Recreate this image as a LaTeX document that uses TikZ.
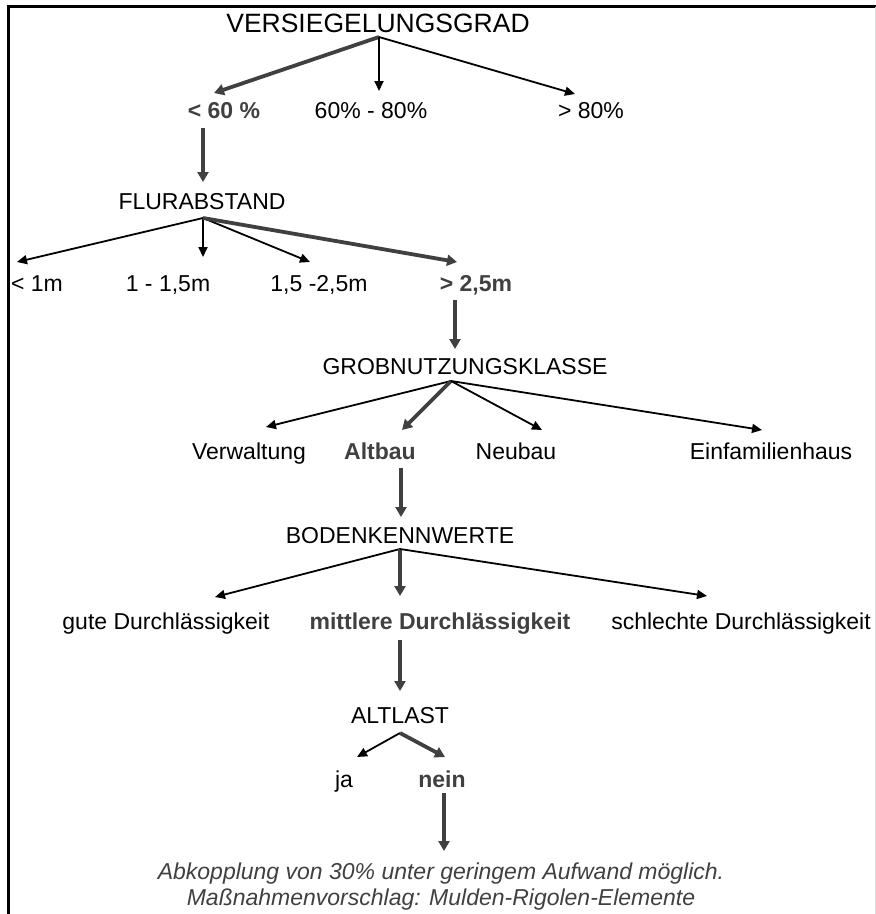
\documentclass[tikz,border=0pt]{standalone}
\usepackage{fontspec}
\setmainfont{Liberation Sans}
\usetikzlibrary{arrows.meta}
\definecolor{dk}{HTML}{404040}
\begin{document}
\begin{tikzpicture}[x=1pt,y=-1pt,
 lbl/.style={anchor=base,inner sep=0pt,font=\fontsize{23}{27}\selectfont},
 hl/.style={anchor=base,inner sep=0pt,font=\fontsize{23}{27}\selectfont\bfseries,text=dk},
 ttl/.style={anchor=base,inner sep=0pt,font=\fontsize{26.5}{30}\selectfont},
 note/.style={anchor=base,inner sep=0pt,font=\fontsize{23}{27}\selectfont\itshape,text=dk},
 thin/.style={draw=black,line width=1.8pt,-{Triangle[length=10pt,width=9pt]}},
 thk/.style={draw=dk,line width=3.8pt,-{Triangle[length=10pt,width=11pt]}},
 frame/.style={draw=black,line width=2.4pt}
]
\useasboundingbox (0,0) rectangle (876,914);
\draw[frame] (8.5,914) -- (8.5,6.5) -- (876,6.5);
\draw[draw=black!12,line width=0.8pt] (875.5,6.5) -- (875.5,914);

% level 0
\node[ttl] (vg) at (378,32) {VERSIEGELUNGSGRAD};
\node[hl] (v1) at (224,118) {< 60 \%};
\node[lbl] (v2) at (371,118) {60\% - 80\%};
\node[lbl] (v3) at (591,118) {> 80\%};
\coordinate (vgA) at (379,37);
\coordinate (v1t) at (214,93);
\coordinate (v2t) at (379,91);
\coordinate (v3t) at (575,94);
\draw[thk] (vgA) -- (v1t);
\draw[thin] (vgA) -- (v2t);
\draw[thin] (vgA) -- (v3t);

% level 1
\node[lbl] (fa) at (202,209) {FLURABSTAND};
\coordinate (v1b) at (203,128);
\coordinate (fat) at (203,182);
\draw[thk] (v1b) -- (fat);
\node[lbl] (f1) at (37,291) {< 1m};
\node[lbl] (f2) at (168,291) {1 - 1,5m};
\node[lbl] (f3) at (319,291) {1,5 -2,5m};
\node[hl] (f4) at (476,291) {> 2,5m};
\coordinate (faA) at (203,218);
\coordinate (f1t) at (17,262);
\coordinate (f2t) at (203,257);
\coordinate (f3t) at (310,262);
\coordinate (f4t) at (457,262);
\draw[thin] (faA) -- (f1t);
\draw[thin] (faA) -- (f2t);
\draw[thin] (faA) -- (f3t);
\draw[thk] (faA) -- (f4t);

% level 2
\node[lbl] (gk) at (465,374) {GROBNUTZUNGSKLASSE};
\coordinate (f4b) at (455,300);
\coordinate (gkt) at (455,349);
\draw[thk] (f4b) -- (gkt);
\node[lbl] (g1) at (249,459) {Verwaltung};
\node[hl] (g2) at (380,459) {Altbau};
\node[lbl] (g3) at (516,459) {Neubau};
\node[lbl] (g4) at (771,459) {Einfamilienhaus};
\coordinate (gkA) at (451,381);
\coordinate (g1t) at (266,427);
\coordinate (g2t) at (402,430);
\coordinate (g3t) at (542,430);
\coordinate (g4t) at (762,430);
\draw[thin] (gkA) -- (g1t);
\draw[thk] (gkA) -- (g2t);
\draw[thin] (gkA) -- (g3t);
\draw[thin] (gkA) -- (g4t);

% level 3
\node[lbl] (bk) at (400,543) {BODENKENNWERTE};
\coordinate (g2b) at (401,468);
\coordinate (bkt) at (401,517);
\draw[thk] (g2b) -- (bkt);
\node[lbl] (b1) at (166,629) {gute Durchlässigkeit};
\node[hl] (b2) at (440,629) {mittlere Durchlässigkeit};
\node[lbl] (b3) at (741,629) {schlechte Durchlässigkeit};
\coordinate (bkA) at (400,549);
\coordinate (b1t) at (215,597);
\coordinate (b2t) at (400,596);
\coordinate (b3t) at (707,596);
\draw[thin] (bkA) -- (b1t);
\draw[thk] (bkA) -- (b2t);
\draw[thin] (bkA) -- (b3t);

% level 4
\node[lbl] (al) at (400,723) {ALTLAST};
\coordinate (b2b) at (400,640);
\coordinate (alt) at (400,691);
\draw[thk] (b2b) -- (alt);
\node[lbl] (a1) at (344,787) {ja};
\node[hl] (a2) at (442,787) {nein};
\coordinate (alA) at (400,733);
\coordinate (a1t) at (357,757);
\coordinate (a2t) at (445,757);
\draw[thin] (alA) -- (a1t);
\draw[thk] (alA) -- (a2t);

% result
\node[note] (r1) at (441,879) {Abkopplung von 30\% unter geringem Aufwand möglich.};
\node[note] (r2) at (441,905) {Maßnahmenvorschlag: Mulden-Rigolen-Elemente};
\coordinate (a2b) at (444,793);
\coordinate (r1t) at (444,851);
\draw[thk] (a2b) -- (r1t);
\end{tikzpicture}
\end{document}
